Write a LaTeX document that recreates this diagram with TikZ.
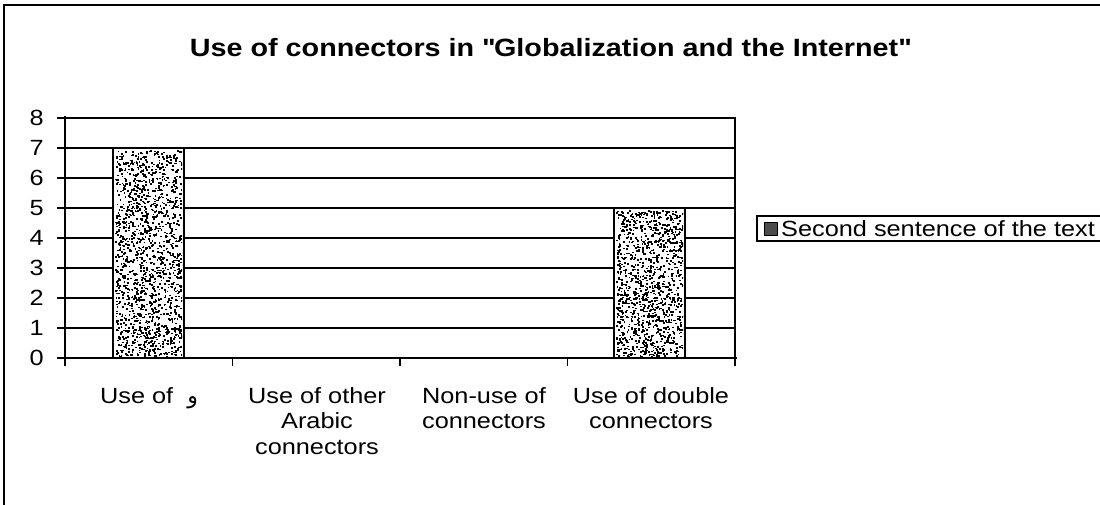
\documentclass[tikz,border=0pt]{standalone}
\usepackage{fontspec}
\setmainfont{Liberation Sans}[FakeStretch=1.15]
\newfontfamily\arabicfont[Script=Arabic]{DejaVu Sans}
\TeXXeTstate=1
% straight double quote, set as a glyph so the TeX ligature mapping leaves it alone
\newcommand\straightquote{{\XeTeXglyph\XeTeXglyphindex "quotedbl"\relax}}
\begin{document}
\begin{tikzpicture}[x=1pt,y=-1pt,
  grid/.style={line width=1.3pt},
  axisline/.style={line width=1.8pt},
  catlabel/.style={anchor=north,align=center,inner sep=0pt,
    font=\fontsize{22}{25.5}\selectfont},
  ticklabel/.style={anchor=east,inner sep=0pt,font=\fontsize{22}{24}\selectfont},
  barbox/.style={draw=black,line width=1.6pt,fill=white}]
\useasboundingbox (0,0) rectangle (1100,504);
% chart frame (continues past the page at right and bottom)
\draw[line width=1.2pt] (1102,5) -- (4,5) -- (4,506);
% title
\node[font=\bfseries\fontsize{25}{30}\selectfont,inner sep=0pt] (title) at (550,48)
  {Use of connectors in \straightquote Globalization and the Internet\straightquote};
% plot area and gridlines
\draw[grid] (65,118) rectangle (735,358);
\foreach \v in {1,...,7}
  \draw[grid] (65,{358-30*\v}) -- (735,{358-30*\v});
% value axis
\draw[axisline] (65,116) -- (65,358);
\foreach \v in {0,...,8}{
  \draw[grid] (57,{358-30*\v}) -- (65,{358-30*\v});
  \node[ticklabel] (y\v) at (44,{358-30*\v}) {\v};
}
% bars
\draw[barbox] (113,148) rectangle (184,358);
\draw[barbox] (614,208) rectangle (685,358);
\pgfmathsetseed{31}
\begin{scope}
  \clip (115,150) rectangle (182,356);
  \foreach \i in {1,...,1600}{
    \pgfmathsetmacro\px{115+67*rnd}
    \pgfmathsetmacro\py{150+206*rnd}
    \fill (\px,\py) rectangle ++(1.8,1.6);
  }
\end{scope}
\begin{scope}
  \clip (616,210) rectangle (683,356);
  \foreach \i in {1,...,1250}{
    \pgfmathsetmacro\px{616+67*rnd}
    \pgfmathsetmacro\py{210+146*rnd}
    \fill (\px,\py) rectangle ++(1.8,1.6);
  }
\end{scope}
% category axis
\draw[axisline] (63,358) -- (737,358);
\foreach \k in {0,...,4}
  \draw[grid] ({65+167.5*\k},358) -- ({65+167.5*\k},366);
% category labels
\node[catlabel] (c1) at (149,387) {Use of\ \ {\arabicfont\beginR و\endR}};
\node[catlabel] (c2) at (317,387) {Use of other\\Arabic\\connectors};
\node[catlabel] (c3) at (484,387) {Non-use of\\connectors};
\node[catlabel] (c4) at (651,387) {Use of double\\connectors};
% legend
\draw[line width=1.2pt] (1102,216) -- (757,216) -- (757,241) -- (1102,241);
\draw[line width=0.8pt,fill=black!70] (764,222) rectangle (777,235);
\node[anchor=west,inner sep=0pt,font=\fontsize{22}{24}\selectfont] (leg) at (781,229)
  {Second sentence of the text};
\end{tikzpicture}
\end{document}
